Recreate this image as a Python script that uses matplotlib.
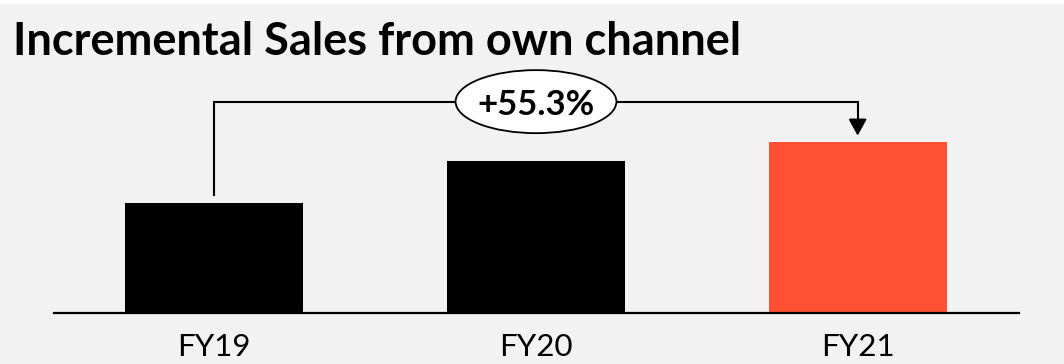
import matplotlib
matplotlib.use("Agg")
import matplotlib.pyplot as plt
from matplotlib.patches import Ellipse, Rectangle

# ---- data ----
categories = ["FY19", "FY20", "FY21"]
values = [100.0, 138.2, 155.3]
bar_colors = ["#000000", "#000000", "#FF5033"]
growth_label = "+55.3%"
title = "Incremental Sales from own channel"

W, H = 1064, 364
fig = plt.figure(figsize=(W / 100, H / 100), dpi=100)
fig.patch.set_facecolor("#F2F2F2")
fig.patches.append(Rectangle((0, 1 - 4 / H), 1, 4 / H, transform=fig.transFigure,
                             facecolor="white", edgecolor="none", zorder=0))

plt.rcParams["font.family"] = ["Lato", "DejaVu Sans"]

# axes: left 53.5px, right 1018.5px, baseline at 313.3px from top
ax_left, ax_right = 53.5 / W, 1018.5 / W
ax_bottom = (H - 313.3) / H
ax_top = 1 - 20 / H
ax = fig.add_axes([ax_left, ax_bottom, ax_right - ax_left, ax_top - ax_bottom])
ax.set_facecolor("none")
px_per_unit = 110.0 / values[0]
ax.set_xlim(-0.5, 2.5)
ax.set_ylim(0, (ax_top - ax_bottom) * H / px_per_unit)

x = list(range(len(categories)))
ax.bar(x, values, width=0.553, color=bar_colors, edgecolor="none", zorder=2)
ax.axhline(0, color="black", lw=1.6, zorder=3, clip_on=False)

for s in ax.spines.values():
    s.set_visible(False)
ax.set_yticks([])
ax.set_xticks(x)
ax.set_xticklabels(categories, fontsize=22.5, color="black")
ax.tick_params(axis="x", length=0, pad=14)

# growth bracket
vmax = max(values)
bracket_y = vmax * 1.239
start_y = values[0] * 1.075
tip_y = values[-1] * 1.04
ax.plot([x[0], x[0], x[-1], x[-1]], [start_y, bracket_y, bracket_y, tip_y + 5],
        color="black", lw=1.5, zorder=4, solid_joinstyle="miter")
ax.annotate("", xy=(x[-1], tip_y), xytext=(x[-1], tip_y + 6),
            arrowprops=dict(arrowstyle="-|>,head_length=1.0,head_width=0.55",
                            mutation_scale=10, color="black", lw=1.5,
                            shrinkA=0, shrinkB=0), zorder=5)
ell = Ellipse((x[1], bracket_y), width=0.5, height=57.3, facecolor="white",
              edgecolor="black", lw=1.3, zorder=5)
ax.add_patch(ell)
ax.text(x[1], bracket_y, growth_label, ha="center", va="center_baseline",
        fontsize=25, fontweight="bold", zorder=6)

fig.text(13 / W, 1 - 55 / H, title, fontsize=32.5, fontweight="bold",
         ha="left", va="baseline")

fig.savefig("out.png", dpi=100, facecolor=fig.get_facecolor())
